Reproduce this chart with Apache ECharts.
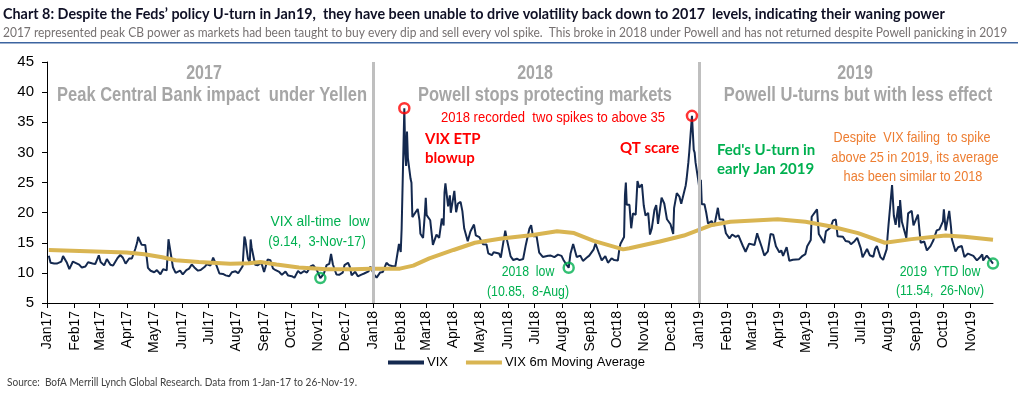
<!DOCTYPE html>
<html>
<head>
<meta charset="utf-8">
<script src="https://cdn.jsdelivr.net/npm/echarts@6/dist/echarts.min.js"></script>
<style>
html,body{margin:0;padding:0;background:#fff;}
#chart{width:1024px;height:398px;}
</style>
</head>
<body>
<div id="chart"></div>
<script>
// ---------- DATA ----------
const monthNames = ['Jan','Feb','Mar','Apr','May','Jun','Jul','Aug','Sep','Oct','Nov','Dec'];

const vix2017 = [
['2017-01-03',12.85],['2017-01-05',11.67],['2017-01-09',11.56],['2017-01-12',11.54],['2017-01-17',11.87],['2017-01-19',12.78],
['2017-01-23',11.77],['2017-01-26',10.63],['2017-01-30',11.88],['2017-02-01',11.81],['2017-02-06',11.37],['2017-02-09',10.88],
['2017-02-13',11.07],['2017-02-16',11.76],['2017-02-21',11.57],['2017-02-24',11.47],['2017-02-28',12.92],['2017-03-02',11.81],
['2017-03-06',11.24],['2017-03-09',12.30],['2017-03-13',11.35],['2017-03-16',11.21],['2017-03-21',12.47],['2017-03-24',12.96],
['2017-03-27',12.50],['2017-03-30',11.54],['2017-04-03',12.38],['2017-04-06',12.39],['2017-04-10',14.05],['2017-04-12',15.07],
['2017-04-13',15.96],['2017-04-17',14.66],['2017-04-19',14.93],['2017-04-21',14.63],['2017-04-24',10.84],['2017-04-27',10.36],
['2017-05-01',10.11],['2017-05-04',10.46],['2017-05-08',9.77],['2017-05-11',10.60],['2017-05-15',10.42],['2017-05-17',15.59],
['2017-05-18',14.66],['2017-05-22',10.93],['2017-05-25',9.99],['2017-05-30',10.38],['2017-06-02',9.75],['2017-06-06',10.45],
['2017-06-09',10.70],['2017-06-12',11.40],['2017-06-15',10.90],['2017-06-19',10.37],['2017-06-22',10.48],['2017-06-27',11.06],
['2017-06-29',11.44],['2017-07-03',11.22],['2017-07-06',12.54],['2017-07-10',11.11],['2017-07-13',9.90],['2017-07-17',9.82],
['2017-07-20',9.58],['2017-07-24',9.43],['2017-07-27',10.11],['2017-07-31',10.26],['2017-08-03',9.95],['2017-08-08',11.11],
['2017-08-10',16.04],['2017-08-11',15.51],['2017-08-14',12.33],['2017-08-16',11.74],['2017-08-17',15.55],['2017-08-18',14.26],
['2017-08-22',11.35],['2017-08-25',11.28],['2017-08-29',11.70],['2017-09-01',10.13],['2017-09-05',12.23],['2017-09-08',12.12],
['2017-09-11',10.73],['2017-09-14',10.44],['2017-09-18',10.15],['2017-09-21',9.67],['2017-09-25',10.21],['2017-09-28',9.55],
['2017-10-02',9.45],['2017-10-05',9.19],['2017-10-09',10.33],['2017-10-12',9.91],['2017-10-16',10.31],['2017-10-19',10.06],
['2017-10-23',11.07],['2017-10-26',11.30],['2017-10-30',10.50],['2017-11-01',10.18],['2017-11-03',9.14],['2017-11-07',9.89],
['2017-11-10',11.29],['2017-11-13',11.50],['2017-11-15',13.13],['2017-11-17',11.43],['2017-11-21',9.73],['2017-11-24',9.67],
['2017-11-28',10.03],['2017-11-30',11.28],['2017-12-04',11.68],['2017-12-06',11.02],['2017-12-08',9.58],['2017-12-12',10.18],
['2017-12-15',9.42],['2017-12-19',9.72],['2017-12-22',9.90],['2017-12-27',10.25],['2017-12-29',11.04]
];

const vix2018 = [
['2018-01-02',9.77],['2018-01-05',9.22],['2018-01-09',10.08],['2018-01-11',9.88],['2018-01-12',10.16],['2018-01-16',11.66],
['2018-01-17',11.91],['2018-01-19',11.27],['2018-01-23',11.10],['2018-01-26',11.08],['2018-01-29',13.84],['2018-01-30',14.79],
['2018-02-01',13.47],['2018-02-02',17.31],['2018-02-05',37.32],['2018-02-06',29.98],['2018-02-07',27.73],['2018-02-08',33.46],
['2018-02-09',29.06],['2018-02-12',25.61],['2018-02-13',24.97],['2018-02-14',19.26],['2018-02-16',19.46],['2018-02-20',20.60],
['2018-02-22',18.72],['2018-02-23',16.49],['2018-02-26',15.80],['2018-02-28',19.85],['2018-03-01',22.47],['2018-03-02',19.59],
['2018-03-06',18.73],['2018-03-09',14.64],['2018-03-13',16.35],['2018-03-16',15.80],['2018-03-19',19.02],['2018-03-21',17.86],
['2018-03-22',23.34],['2018-03-23',24.87],['2018-03-26',21.03],['2018-03-28',22.87],['2018-03-29',19.97],['2018-04-02',23.62],
['2018-04-04',20.06],['2018-04-06',21.49],['2018-04-09',21.77],['2018-04-11',20.24],['2018-04-13',17.41],['2018-04-17',15.25],
['2018-04-20',16.88],['2018-04-24',18.02],['2018-04-26',16.24],['2018-04-30',15.93],['2018-05-02',15.97],['2018-05-04',14.77],
['2018-05-08',14.71],['2018-05-10',13.23],['2018-05-14',12.93],['2018-05-16',13.42],['2018-05-18',13.42],['2018-05-22',13.22],
['2018-05-24',12.53],['2018-05-29',17.02],['2018-05-31',15.43],['2018-06-04',12.74],['2018-06-07',12.13],['2018-06-11',12.35],
['2018-06-14',12.12],['2018-06-18',12.31],['2018-06-21',14.64],['2018-06-25',17.33],['2018-06-27',17.91],['2018-06-29',16.09],
['2018-07-03',16.14],['2018-07-06',13.37],['2018-07-10',12.64],['2018-07-12',12.58],['2018-07-16',12.83],['2018-07-19',12.87],
['2018-07-23',12.62],['2018-07-25',12.29],['2018-07-27',13.03],['2018-07-31',12.83],['2018-08-02',12.19],['2018-08-06',11.27],
['2018-08-08',10.85],['2018-08-10',13.16],['2018-08-13',14.78],['2018-08-15',14.64],['2018-08-17',12.64],['2018-08-21',12.86],
['2018-08-24',11.99],['2018-08-28',12.50],['2018-08-31',12.86],['2018-09-05',13.91],['2018-09-07',14.88],['2018-09-11',13.22],
['2018-09-14',12.07],['2018-09-18',12.79],['2018-09-21',11.68],['2018-09-25',12.42],['2018-09-28',12.12],['2018-10-02',12.05],
['2018-10-04',14.22],['2018-10-05',14.82],['2018-10-09',15.95],['2018-10-10',22.96],['2018-10-11',24.98],['2018-10-12',21.31],
['2018-10-15',21.30],['2018-10-17',17.40],['2018-10-19',19.89],['2018-10-22',19.64],['2018-10-24',25.23],['2018-10-26',24.16],
['2018-10-29',24.70],['2018-10-31',21.23],['2018-11-02',19.51],['2018-11-05',19.96],['2018-11-07',16.36],['2018-11-09',17.36],
['2018-11-12',20.45],['2018-11-14',21.25],['2018-11-16',18.14],['2018-11-20',22.48],['2018-11-23',21.52],['2018-11-26',18.90],
['2018-11-28',18.49],['2018-11-30',18.07],['2018-12-03',16.44],['2018-12-04',20.74],['2018-12-07',23.23],['2018-12-10',22.64],
['2018-12-12',21.46],['2018-12-14',21.63],['2018-12-17',24.52],['2018-12-18',25.58],['2018-12-20',28.38],['2018-12-21',30.11],
['2018-12-24',36.07],['2018-12-26',30.41],['2018-12-27',29.96],['2018-12-28',28.34],['2018-12-31',25.42]
];

const vix2019 = [
['2019-01-02',23.22],['2019-01-03',25.45],['2019-01-04',21.38],['2019-01-07',21.40],['2019-01-09',19.98],['2019-01-11',18.19],
['2019-01-15',18.60],['2019-01-18',17.80],['2019-01-22',20.80],['2019-01-24',18.89],['2019-01-28',18.87],['2019-01-31',16.57],
['2019-02-04',15.73],['2019-02-07',16.37],['2019-02-11',15.97],['2019-02-14',16.22],['2019-02-19',14.46],['2019-02-22',13.51],
['2019-02-26',14.85],['2019-02-28',14.78],['2019-03-04',14.63],['2019-03-07',16.59],['2019-03-08',16.05],['2019-03-12',14.33],
['2019-03-15',12.88],['2019-03-19',13.56],['2019-03-22',16.48],['2019-03-25',16.33],['2019-03-28',14.43],['2019-04-01',13.40],
['2019-04-03',13.74],['2019-04-05',12.82],['2019-04-09',14.28],['2019-04-12',12.01],['2019-04-16',12.18],['2019-04-18',12.09],
['2019-04-23',12.28],['2019-04-26',12.73],['2019-04-30',13.12],['2019-05-02',14.42],['2019-05-06',15.44],['2019-05-07',19.32],
['2019-05-09',19.10],['2019-05-13',20.55],['2019-05-15',16.44],['2019-05-17',15.96],['2019-05-21',14.95],['2019-05-23',16.92],
['2019-05-28',17.50],['2019-05-31',18.71],['2019-06-03',18.86],['2019-06-05',16.09],['2019-06-07',16.30],['2019-06-11',15.99],
['2019-06-14',15.28],['2019-06-18',15.15],['2019-06-20',14.75],['2019-06-24',15.26],['2019-06-27',15.82],['2019-07-01',14.06],
['2019-07-03',12.57],['2019-07-08',13.96],['2019-07-11',12.93],['2019-07-15',12.68],['2019-07-17',13.97],['2019-07-19',14.45],
['2019-07-23',12.61],['2019-07-26',12.16],['2019-07-30',13.94],['2019-07-31',16.12],['2019-08-01',17.87],['2019-08-02',17.61],
['2019-08-05',24.59],['2019-08-07',19.49],['2019-08-09',17.97],['2019-08-12',21.09],['2019-08-13',17.52],['2019-08-14',22.10],
['2019-08-16',18.47],['2019-08-19',16.88],['2019-08-21',15.80],['2019-08-23',19.87],['2019-08-27',20.31],['2019-08-29',17.88],
['2019-09-03',19.66],['2019-09-06',15.00],['2019-09-10',15.20],['2019-09-13',13.74],['2019-09-17',14.44],['2019-09-20',15.32],
['2019-09-24',17.05],['2019-09-27',17.22],['2019-10-01',18.56],['2019-10-02',20.56],['2019-10-04',17.04],['2019-10-08',20.28],
['2019-10-10',17.57],['2019-10-11',15.58],['2019-10-15',13.54],['2019-10-18',14.25],['2019-10-22',14.46],['2019-10-25',12.65],
['2019-10-29',13.20],['2019-10-31',13.22],['2019-11-04',12.83],['2019-11-06',12.62],['2019-11-08',12.07],['2019-11-12',12.68],
['2019-11-14',13.05],['2019-11-15',12.05],['2019-11-19',12.86],['2019-11-21',12.78],['2019-11-22',12.34],['2019-11-26',11.54]
];

// VIX 6m moving average
const ma6m = [
['2017-01-03',13.8],['2017-02-15',13.6],['2017-03-31',13.4],['2017-04-20',13.1],['2017-05-10',12.6],['2017-05-25',12.1],
['2017-06-20',11.8],['2017-07-25',11.5],['2017-08-15',11.6],['2017-08-28',11.8],['2017-09-15',11.4],['2017-10-10',10.9],
['2017-11-10',10.6],['2017-12-10',10.6],['2017-12-29',10.7],['2018-01-31',10.7],['2018-02-15',11.2],['2018-03-05',12.4],
['2018-04-01',13.8],['2018-04-25',15.0],['2018-05-25',15.7],['2018-06-29',16.3],['2018-07-26',16.9],['2018-08-14',16.6],
['2018-09-05',15.3],['2018-10-08',13.9],['2018-10-15',14.1],['2018-11-18',15.2],['2018-12-15',16.2],['2019-01-14',17.9],
['2019-02-05',18.5],['2019-03-30',18.9],['2019-04-30',18.5],['2019-05-29',17.7],['2019-06-28',16.6],['2019-07-28',15.0],
['2019-08-27',15.6],['2019-10-04',16.2],['2019-10-25',16.0],['2019-11-26',15.5]
];

const spikePoints = [['2018-02-05',37.32],['2018-12-24',36.07]];
const lowPoints = [['2017-11-03',9.14],['2018-08-08',10.85],['2019-11-26',11.54]];
const yearDividers = ['2018-01-01','2019-01-01'];
const yTicks = {min:5, max:45, step:5};

// ---------- CHART ----------
const NAVY = '#14294f';
const GOLD = '#d9b552';
const GREEN = '#00b050';
const RED = '#ff0000';
const ORANGE = '#ed7d31';
const GREY_T = '#a6a6a6';
const ARIAL = '"Liberation Sans", Arial, sans-serif';
const CAL = 'Lato, "Open Sans", sans-serif';

function txt(x, y, text, opt) {
  opt = opt || {};
  return {
    type: 'text', x: x, y: y, scaleX: opt.sx || 1, z: 100,
    style: {
      text: text, fill: opt.color || '#000',
      fontSize: opt.size || 14, fontFamily: opt.family || ARIAL,
      fontWeight: opt.weight || 'normal',
      align: opt.align || 'center', verticalAlign: 'middle'
    }
  };
}

const chart = echarts.init(document.getElementById('chart'), null, {renderer: 'canvas'});
const DAY = 24*3600*1000;

chart.setOption({
  animation: false,
  backgroundColor: '#fff',
  grid: {left: 47, right: 31, top: 62, bottom: 95, containLabel: false},
  legend: {
    left: 383, top: 351, itemWidth: 36, itemHeight: 4, itemGap: 18,
    icon: 'rect',
    textStyle: {fontFamily: ARIAL, fontSize: 13, color: '#000', padding: [0,0,0,-2]},
    data: [{name: 'VIX', itemStyle: {color: NAVY}}, {name: 'VIX 6m Moving Average', itemStyle: {color: GOLD}}]
  },
  xAxis: {
    type: 'time', min: '2017-01-01', max: '2019-11-26',
    minInterval: 28*DAY, maxInterval: 31*DAY,
    axisLine: {show: true, lineStyle: {color: '#000', width: 1}},
    axisTick: {show: true, length: 5, lineStyle: {color: '#000'}},
    splitLine: {show: false},
    axisLabel: {
      rotate: 90, margin: 8, fontFamily: ARIAL, fontSize: 14, color: '#000',
      showMinLabel: true, showMaxLabel: false, hideOverlap: false,
      formatter: function (v) {
        const d = new Date(v);
        return monthNames[d.getMonth()] + String(d.getFullYear()).slice(2);
      }
    }
  },
  yAxis: {
    type: 'value', min: yTicks.min, max: yTicks.max, interval: yTicks.step,
    axisLine: {show: true, lineStyle: {color: '#000', width: 1}},
    axisTick: {show: true, length: 5, lineStyle: {color: '#000'}},
    splitLine: {show: false},
    axisLabel: {fontFamily: ARIAL, fontSize: 15, color: '#000', margin: 13}
  },
  series: [
    {
      name: 'VIX', type: 'line', showSymbol: false, symbol: 'none',
      data: vix2017.concat(vix2018, vix2019),
      lineStyle: {color: NAVY, width: 2}, itemStyle: {color: NAVY}, z: 2,
      markLine: {
        silent: true, symbol: ['none','none'], label: {show: false},
        lineStyle: {color: '#bfbfbf', width: 3, type: 'solid'},
        data: yearDividers.map(function (d) { return {xAxis: d}; })
      }
    },
    {
      name: 'VIX 6m Moving Average', type: 'line', showSymbol: false, symbol: 'none',
      data: ma6m, lineStyle: {color: GOLD, width: 4}, itemStyle: {color: GOLD}, z: 3
    },
    {
      name: 'spikes', type: 'scatter', data: spikePoints, symbol: 'circle', symbolSize: 10,
      itemStyle: {color: 'rgba(255,255,255,0)', borderColor: RED, borderWidth: 2.5}, z: 5
    },
    {
      name: 'lows', type: 'scatter', data: lowPoints, symbol: 'circle', symbolSize: 10,
      itemStyle: {color: 'rgba(255,255,255,0)', borderColor: GREEN, borderWidth: 2.5}, z: 5
    }
  ],
  graphic: [
    txt(3, 14, 'Chart 8: Despite the Feds\u2019 policy U-turn in Jan19,  they have been unable to drive volatility back down to 2017  levels, indicating their waning power',
        {align: 'left', family: CAL, weight: 'bold', size: 14.5, color: '#0f1025', sx: 0.99}),
    txt(3, 33, '2017 represented peak CB power as markets had been taught to buy every dip and sell every vol spike.  This broke in 2018 under Powell and has not returned despite Powell panicking in 2019',
        {align: 'left', family: CAL, size: 13, color: '#767171', sx: 0.922}),
    {type: 'rect', shape: {x: 0, y: 42, width: 1018, height: 1.5}, style: {fill: '#3c64a0'}, z: 100},

    txt(204, 73, '2017', {weight: 'bold', size: 20, color: GREY_T, sx: 0.8}),
    txt(212, 95, 'Peak Central Bank impact  under Yellen', {weight: 'bold', size: 20, color: GREY_T, sx: 0.825}),
    txt(535, 73, '2018', {weight: 'bold', size: 20, color: GREY_T, sx: 0.8}),
    txt(545, 95, 'Powell stops protecting markets', {weight: 'bold', size: 20, color: GREY_T, sx: 0.825}),
    txt(855, 73, '2019', {weight: 'bold', size: 20, color: GREY_T, sx: 0.8}),
    txt(858, 95, 'Powell U-turns but with less effect', {weight: 'bold', size: 20, color: GREY_T, sx: 0.825}),

    txt(553, 118, '2018 recorded  two spikes to above 35', {size: 15, color: RED, sx: 0.87}),
    txt(425, 139, 'VIX ETP', {align: 'left', family: CAL, weight: 'bold', size: 15, color: RED}),
    txt(425, 158, 'blowup', {align: 'left', family: CAL, weight: 'bold', size: 15, color: RED}),
    txt(620, 148, 'QT scare', {align: 'left', family: CAL, weight: 'bold', size: 15, color: RED}),

    txt(320, 222, 'VIX all-time  low', {size: 15, color: GREEN, sx: 0.92}),
    txt(317, 242, '(9.14,  3-Nov-17)', {size: 15, color: GREEN, sx: 0.86}),
    txt(528, 272, '2018  low', {size: 15, color: GREEN, sx: 0.82}),
    txt(528, 292, '(10.85,  8-Aug)', {size: 15, color: GREEN, sx: 0.82}),
    txt(717, 150, 'Fed\'s U-turn in', {align: 'left', family: CAL, weight: 'bold', size: 15, color: GREEN}),
    txt(717, 169, 'early Jan 2019', {align: 'left', family: CAL, weight: 'bold', size: 15, color: GREEN}),
    txt(940, 272, '2019  YTD low', {size: 15, color: GREEN, sx: 0.82}),
    txt(940, 291, '(11.54,  26-Nov)', {size: 15, color: GREEN, sx: 0.82}),

    txt(912, 138, 'Despite  VIX failing  to spike', {size: 15, color: ORANGE, sx: 0.84}),
    txt(915, 158, 'above 25 in 2019, its average', {size: 15, color: ORANGE, sx: 0.85}),
    txt(913, 177, 'has been similar to 2018', {size: 15, color: ORANGE, sx: 0.85}),

    txt(7, 382, 'Source:  BofA Merrill Lynch Global Research. Data from 1-Jan-17 to 26-Nov-19.',
        {align: 'left', family: CAL, size: 11, color: '#404040', sx: 0.915})
  ]
});
</script>
</body>
</html>
